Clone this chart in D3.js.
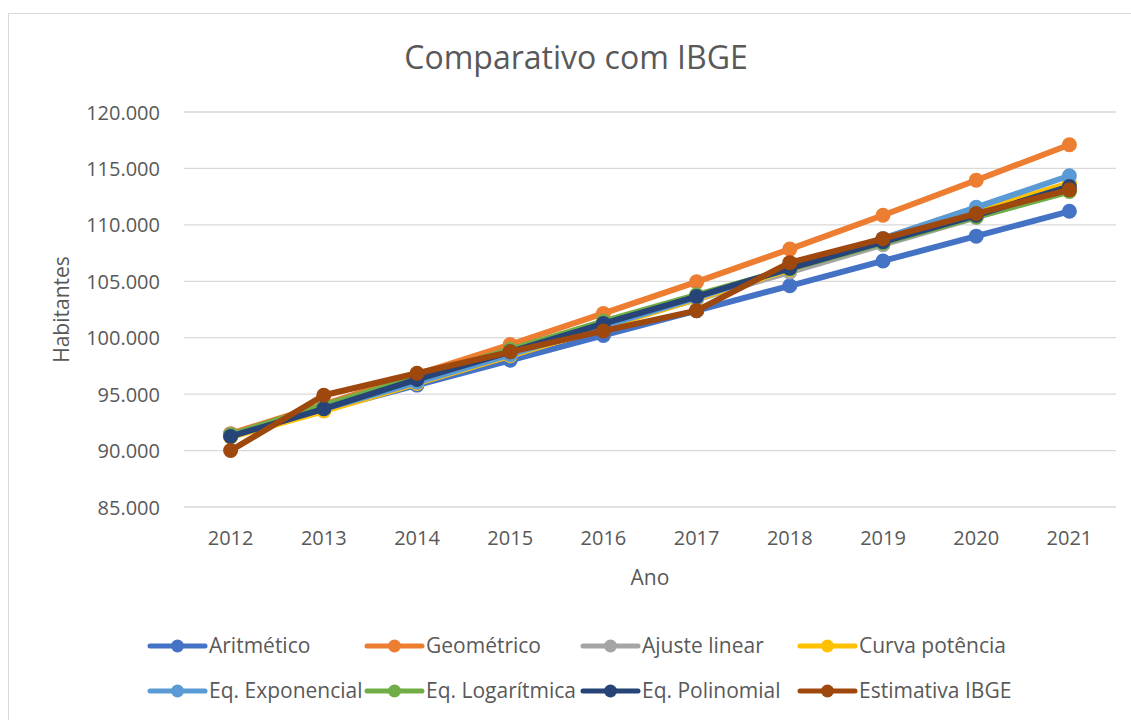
<!DOCTYPE html>
<html><head><meta charset="utf-8">
<script src="https://cdn.jsdelivr.net/npm/d3@7"></script>
<style>body{margin:0;background:#fff;} text{font-family:"Open Sans",sans-serif;fill:#595959;}</style>
</head><body>
<svg id="c" width="1131" height="720"></svg>
<script>
const years = [2012,2013,2014,2015,2016,2017,2018,2019,2020,2021];
const aritmetico   = [91400,93600,95800,98000,100200,102400,104600,106800,109000,111200];
const geometrico   = [91500,94100,96750,99400,102150,104950,107850,110850,113950,117100];
const ajusteLinear = [91300,93720,96140,98560,100980,103400,105820,108240,110660,113080];
const curvaPotencia= [91200,93500,95950,98400,100900,103450,106050,108700,111200,113700];
const eqExponencial= [91400,93700,96050,98500,101000,103550,106150,108800,111550,114350];
const eqLogaritmica= [91400,94000,96500,98950,101450,103800,106100,108400,110700,112950];
const eqPolinomial = [91250,93700,96300,98750,101250,103650,106150,108500,110850,113400];
const estimativaIBGE=[90000,94900,96850,98750,100600,102400,106650,108780,111000,113100];
const seriesNames = ["Aritmético","Geométrico","Ajuste linear","Curva potência","Eq. Exponencial","Eq. Logarítmica","Eq. Polinomial","Estimativa IBGE"];
const seriesValues = [aritmetico,geometrico,ajusteLinear,curvaPotencia,eqExponencial,eqLogaritmica,eqPolinomial,estimativaIBGE];
const colors = ["#4472C4","#ED7D31","#A5A5A5","#FFC000","#5B9BD5","#70AD47","#264478","#9E480E"];
const yTicks = [85000,90000,95000,100000,105000,110000,115000,120000];

const svg = d3.select("#c");
svg.append("rect").attr("x",8.5).attr("y",13.5).attr("width",1140).attr("height",720)
  .attr("fill","#fff").attr("stroke","#D9D9D9").attr("stroke-width",1);

const L=184, R=1116, T=112, B=507;
const x = d3.scaleBand().domain(years).range([L,R]);
const y = d3.scaleLinear().domain([85000,120000]).range([B,T]);
const fmt = v => d3.format(",")(v).replace(/,/g,".");

// gridlines
svg.append("g").selectAll("line").data(yTicks).join("line")
  .attr("x1",L).attr("x2",R).attr("y1",d=>y(d)).attr("y2",d=>y(d))
  .attr("stroke","#D9D9D9").attr("stroke-width",1.3);

// y axis labels
const ya = svg.append("g").attr("transform",`translate(${L-24},0)`)
  .call(d3.axisLeft(y).tickValues(yTicks).tickFormat(fmt).tickSize(0).tickPadding(0));
ya.select(".domain").remove();
ya.selectAll("text").attr("font-size",20).attr("font-family","Open Sans").attr("fill","#595959").attr("dy","0.35em");

// x axis labels
const xa = svg.append("g").attr("transform",`translate(0,${B})`)
  .call(d3.axisBottom(x).tickSize(0).tickPadding(0));
xa.select(".domain").remove();
xa.selectAll("text").attr("font-size",20).attr("font-family","Open Sans").attr("fill","#595959").attr("y",38).attr("dy",0);

// title & axis titles
svg.append("text").attr("x",576).attr("y",69).attr("text-anchor","middle").attr("font-size",32).text("Comparativo com IBGE");
svg.append("text").attr("x",(L+R)/2).attr("y",585).attr("text-anchor","middle").attr("font-size",21).text("Ano");
svg.append("text").attr("transform",`translate(69,${(T+B)/2}) rotate(-90)`).attr("text-anchor","middle").attr("font-size",21).text("Habitantes");

// lines
const line = d3.line().x((d,i)=>x(years[i])+x.bandwidth()/2).y(d=>y(d));
seriesValues.forEach((vals,si)=>{
  const g = svg.append("g");
  g.append("path").datum(vals).attr("d",line).attr("fill","none")
    .attr("stroke",colors[si]).attr("stroke-width",6).attr("stroke-linejoin","round").attr("stroke-linecap","round");
  g.selectAll("circle").data(vals).join("circle")
    .attr("cx",(d,i)=>x(years[i])+x.bandwidth()/2).attr("cy",d=>y(d)).attr("r",7.5)
    .attr("fill",colors[si]);
});

// legend
const legX = [150,367,583,800], legY=[646,691];
seriesNames.forEach((name,i)=>{
  const cx = legX[i%4], cy = legY[Math.floor(i/4)];
  const g = svg.append("g");
  g.append("line").attr("x1",cx).attr("x2",cx+55).attr("y1",cy).attr("y2",cy)
    .attr("stroke",colors[i]).attr("stroke-width",5).attr("stroke-linecap","round");
  g.append("circle").attr("cx",cx+27.5).attr("cy",cy).attr("r",6.5).attr("fill",colors[i]);
  g.append("text").attr("x",cx+59).attr("y",cy).attr("dy","0.35em").attr("font-size",21).text(name);
});
</script>
</body></html>
